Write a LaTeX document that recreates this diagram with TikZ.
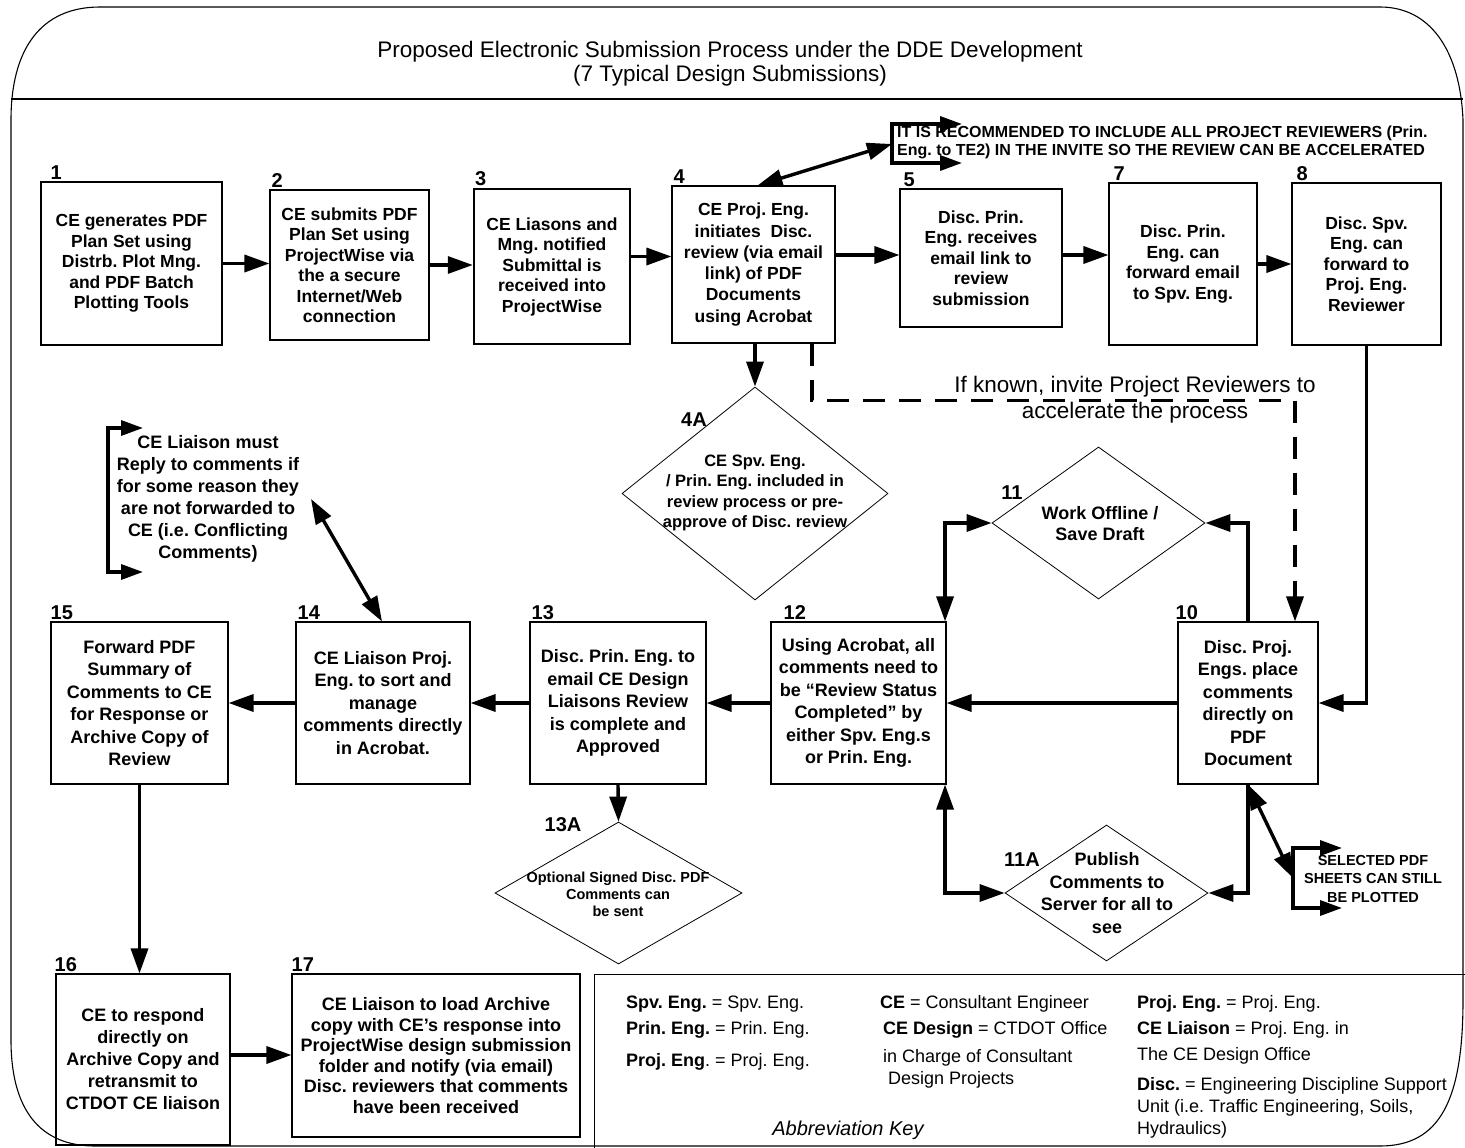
\documentclass[tikz,border=0pt]{standalone}
\usepackage{fontspec}
\setmainfont{Liberation Sans}
\usetikzlibrary{arrows.meta,shapes.geometric,calc}
\begin{document}
\frenchspacing
\begin{tikzpicture}[x=1pt,y=-1pt,
  box/.style={draw, line width=1.1pt, align=center, inner sep=1pt, font=\bfseries\fontsize{17.5}{20.5}\selectfont},
  boxm/.style={box, font=\bfseries\fontsize{18}{22.5}\selectfont},
  dia/.style={draw, diamond, line width=0.8pt, inner sep=0pt},
  dtext/.style={align=center, inner sep=0pt},
  lab/.style={font=\bfseries\fontsize{20}{20}\selectfont, anchor=base west, inner sep=0pt},
  legt/.style={font=\fontsize{18}{22}\selectfont, anchor=base west, inner sep=0pt},
  conn/.style={line width=3.4pt, -{Triangle[length=25pt,width=17pt]}},
  conn2/.style={line width=3.4pt, {Triangle[length=25pt,width=17pt]}-{Triangle[length=25pt,width=17pt]}},
  brk/.style={line width=3.4pt, {Triangle[length=22pt,width=15pt]}-{Triangle[length=22pt,width=15pt]}},
  dsh/.style={line width=3.4pt, dash pattern=on 22pt off 14pt, -{Triangle[length=25pt,width=17pt]}}
]
\useasboundingbox (0,0) rectangle (1465,1148);
\fill[white] (0,0) rectangle (1465,1148);

% outer frame
\draw[line width=1.1pt] (11,1040) -- (11,120) .. controls (11,50) and (40,7) .. (100,7) -- (1380,7)
  .. controls (1430,7) and (1460,50) .. (1463,120) -- (1463,1000)
  .. controls (1463,1100) and (1440,1146) .. (1380,1146) -- (95,1146)
  .. controls (40,1146) and (11,1110) .. (11,1040) -- cycle;
\draw[line width=2.4pt] (11,99) -- (1463,99);
\node[font=\fontsize{22.5}{24}\selectfont, align=center, inner sep=0pt] (title) at (730,64)
  {Proposed Electronic Submission Process under the DDE Development\\(7 Typical Design Submissions)};

% top row
\node[box, minimum width=181pt, minimum height=163pt] (b1) at (131.5,263.5)
  {CE generates PDF\\Plan Set using\\Distrb. Plot Mng.\\and PDF Batch\\Plotting Tools};
\node[box, minimum width=159pt, minimum height=150pt] (b2) at (349.5,265)
  {CE submits PDF\\Plan Set using\\ProjectWise via\\the a secure\\Internet/Web\\connection};
\node[box, line width=2.4pt, minimum width=156pt, minimum height=155pt] (b3) at (552,266.5)
  {CE Liasons and\\Mng. notified\\Submittal is\\received into\\ProjectWise};
\node[box, minimum width=163pt, minimum height=157pt, font=\bfseries\fontsize{17.5}{21.3}\selectfont] (b4) at (753.5,264.5)
  {CE Proj. Eng.\\initiates\ \ Disc.\\review (via email\\link) of PDF\\Documents\\using Acrobat};
\node[box, minimum width=162pt, minimum height=138pt] (b5) at (981,258)
  {Disc. Prin.\\Eng. receives\\email link to\\review\\submission};
\node[box, minimum width=148pt, minimum height=162pt] (b7) at (1183,264)
  {Disc. Prin.\\Eng. can\\forward email\\to Spv. Eng.};
\node[box, minimum width=149pt, minimum height=162pt] (b8) at (1366.5,264)
  {Disc. Spv.\\Eng. can\\forward to\\Proj. Eng.\\Reviewer};

% middle row
\node[boxm, minimum width=177pt, minimum height=162pt] (b15) at (139.5,703)
  {Forward PDF\\Summary of\\Comments to CE\\for Response or\\Archive Copy of\\Review};
\node[boxm, minimum width=174pt, minimum height=162pt] (b14) at (383,703)
  {CE Liaison Proj.\\Eng. to sort and\\manage\\comments directly\\in Acrobat.};
\node[boxm, minimum width=176pt, minimum height=162pt] (b13) at (618,703)
  {Disc. Prin. Eng. to\\email CE Design\\Liaisons Review\\is complete and\\Approved};
\node[boxm, minimum width=175pt, minimum height=162pt] (b12) at (858.5,703)
  {Using Acrobat, all\\comments need to\\be “Review Status\\Completed” by\\either Spv. Eng.s\\or Prin. Eng.};
\node[boxm, minimum width=140pt, minimum height=162pt] (b10) at (1248,703)
  {Disc. Proj.\\Engs. place\\comments\\directly on\\PDF\\Document};

% bottom row
\node[box, minimum width=174pt, minimum height=171pt, font=\bfseries\fontsize{18}{22}\selectfont] (b16) at (143,1059.5)
  {CE to respond\\directly on\\Archive Copy and\\retransmit to\\CTDOT CE liaison};
\node[box, minimum width=288pt, minimum height=163pt, font=\bfseries\fontsize{18}{20.6}\selectfont] (b17) at (436,1055.5)
  {CE Liaison to load Archive\\copy with CE’s response into\\ProjectWise design submission\\folder and notify (via email)\\Disc. reviewers that comments\\have been received};

% diamonds
\node[dia, minimum width=266pt, minimum height=213pt] (d4a) at (755,493.5) {};
\node[dtext, font=\bfseries\fontsize{16.5}{20.5}\selectfont] (t4a) at (755,493)
  {CE Spv. Eng.\\/ Prin. Eng. included in\\review process or pre-\\approve of Disc. review};
\node[dia, minimum width=213pt, minimum height=152pt] (d11) at (1098.5,523) {};
\node[dtext, font=\bfseries\fontsize{18}{21}\selectfont] (t11) at (1100,523.5) {Work Offline /\\Save Draft};
\node[dia, minimum width=203pt, minimum height=136pt] (d11a) at (1106.5,893) {};
\node[dtext, font=\bfseries\fontsize{18}{22.7}\selectfont] (t11a) at (1107,893) {Publish\\Comments to\\Server for all to\\see};
\node[dia, minimum width=247pt, minimum height=142pt] (d13a) at (618.5,893) {};
\node[dtext, font=\bfseries\fontsize{14.5}{17}\selectfont] (t13a) at (618,894) {Optional Signed Disc. PDF\\Comments can\\be sent};

% step labels
\node[lab] (l1) at ([xshift=10pt,yshift=2pt]b1.north west) {1};
\node[lab] (l2) at ([xshift=2pt,yshift=2pt]b2.north west) {2};
\node[lab] (l3) at ([xshift=2pt,yshift=2pt]b3.north west) {3};
\node[lab] (l4) at ([xshift=2pt,yshift=2pt]b4.north west) {4};
\node[lab] (l5) at ([xshift=4pt,yshift=2pt]b5.north west) {5};
\node[lab] (l7) at ([xshift=5pt,yshift=2pt]b7.north west) {7};
\node[lab] (l8) at ([xshift=5pt,yshift=2pt]b8.north west) {8};
\node[lab] (l15) at ([xshift=0pt,yshift=2pt]b15.north west) {15};
\node[lab] (l14) at ([xshift=2pt,yshift=2pt]b14.north west) {14};
\node[lab] (l13) at ([xshift=2pt,yshift=2pt]b13.north west) {13};
\node[lab] (l12) at ([xshift=13pt,yshift=2pt]b12.north west) {12};
\node[lab] (l10) at ([xshift=-2pt,yshift=2pt]b10.north west) {10};
\node[lab] (l16) at ([xshift=-1pt,yshift=2pt]b16.north west) {16};
\node[lab] (l17) at ([xshift=0pt,yshift=2pt]b17.north west) {17};
\node[lab, anchor=center] (l4a) at (694,420) {4A};
\node[lab, anchor=center] (l11) at (1012,493) {11};
\node[lab, anchor=center] (l11a) at (1022,860) {11A};
\node[lab, anchor=center] (l13a) at (563,825) {13A};

% top row connectors
\draw[conn] (b1.east) -- (b1.east -| b2.west);
\draw[conn] (b2.east) -- (b2.east -| b3.west);
\draw[conn] ([yshift=10pt]b3.east) -- ([yshift=10pt]b3.east -| b4.west);
\draw[conn] ([yshift=9.5pt]b4.east) -- ([yshift=9.5pt]b4.east -| b5.west);
\draw[conn] ([yshift=3pt]b5.east) -- ([yshift=3pt]b5.east -| b7.west);
\draw[conn] (b7.east) -- (b7.east -| b8.west);
\draw[conn] (b4.south -| d4a.north) -- (d4a.north);
\draw[dsh] ([xshift=58.5pt]b4.south) -- ++(0,57) -| ([xshift=47pt]b10.north);
\node[font=\fontsize{22.5}{26}\selectfont, align=center, inner sep=0pt] (tknown) at (1135,400)
  {If known, invite Project Reviewers to\\accelerate the process};

% top note
\node[anchor=west, align=left, inner sep=0pt, font=\bfseries\fontsize{16}{18}\selectfont] (tnote) at (897,142)
  {IT IS RECOMMENDED TO INCLUDE ALL PROJECT REVIEWERS (Prin.\\Eng. to TE2) IN THE INVITE SO THE REVIEW CAN BE ACCELERATED};
\coordinate (tnA) at (962,124);
\coordinate (tnB) at (892,124);
\coordinate (tnC) at (892,163);
\coordinate (tnD) at (962,163);
\coordinate (tnM) at (892,144);
\draw[brk] (tnA) -- (tnB) -- (tnC) -- (tnD);
\draw[conn2] ([xshift=4pt]b4.north) -- (tnM);

% right side
\draw[conn] (b8.south) |- (b10.east);
\draw[conn] (b10.west) -- (b12.east);
\draw[conn] (b12.west) -- (b13.east);
\draw[conn] (b13.west) -- (b14.east);
\draw[conn] (b14.west) -- (b15.east);
\draw[conn] (b10.north) |- (d11.east);
\draw[conn2] (d11.west) -| ([xshift=-1.5pt]b12.north east);
\draw[conn2] ([xshift=-1.5pt]b12.south east) |- (d11a.west);
\draw[conn] (b10.south) |- (d11a.east);
\draw[conn] (b13.south) -- (d13a.north);

% selected sheets note
\node[dtext, font=\bfseries\fontsize{14.5}{18.5}\selectfont] (tsel) at (1373,879) {SELECTED PDF\\SHEETS CAN STILL\\BE PLOTTED};
\coordinate (sA) at (1342,848);
\coordinate (sB) at (1293,848);
\coordinate (sC) at (1293,908);
\coordinate (sD) at (1342,908);
\coordinate (sM) at (1293,878);
\draw[brk] (sA) -- (sB) -- (sC) -- (sD);
\draw[conn2] (b10.south) -- (sM);

% left note
\node[dtext, font=\bfseries\fontsize{18}{22}\selectfont] (lnote) at (208,499)
  {CE Liaison must\\Reply to comments if\\for some reason they\\are not forwarded to\\CE (i.e. Conflicting\\Comments)};
\coordinate (nA) at (143,428);
\coordinate (nB) at (108,428);
\coordinate (nC) at (108,572);
\coordinate (nD) at (143,572);
\coordinate (nM) at (311,499);
\draw[brk] (nA) -- (nB) -- (nC) -- (nD);
\draw[conn2] (nM) -- ([xshift=-1pt]b14.north);

% bottom connectors
\draw[conn] (b15.south) -- (b15.south |- b16.north);
\draw[conn] ([yshift=4.5pt]b16.east) -- ([yshift=4.5pt]b16.east -| b17.west);

% legend
\node[draw, line width=1.4pt, anchor=north west, minimum width=900pt, minimum height=200pt, inner sep=0pt] (leg) at (594,974) {};
\node[legt] (k1) at (626,1008) {\textbf{Spv. Eng.} = Spv. Eng.};
\node[legt] (k2) at (626,1034) {\textbf{Prin. Eng.} = Prin. Eng.};
\node[legt] (k3) at (626,1066) {\textbf{Proj. Eng}. = Proj. Eng.};
\node[legt] (k4) at (880,1008) {\textbf{CE} = Consultant Engineer};
\node[legt] (k5) at (883,1034) {\textbf{CE Design} = CTDOT Office};
\node[legt] (k6) at (883,1062) {in Charge of Consultant};
\node[legt] (k7) at (883,1084) {\ Design Projects};
\node[legt] (k8) at (1137,1008) {\textbf{Proj. Eng.} = Proj. Eng.};
\node[legt] (k9) at (1137,1034) {\textbf{CE Liaison} = Proj. Eng. in};
\node[legt] (k10) at (1137,1060) {The CE Design Office};
\node[legt] (k11) at (1137,1090) {\textbf{Disc.} = Engineering Discipline Support};
\node[legt] (k12) at (1137,1112) {Unit (i.e. Traffic Engineering, Soils,};
\node[legt] (k13) at (1137,1134) {Hydraulics)};
\node[font=\itshape\fontsize{20}{22}\selectfont, inner sep=0pt] (kt) at (848,1130) {Abbreviation Key};
\end{tikzpicture}
\end{document}
